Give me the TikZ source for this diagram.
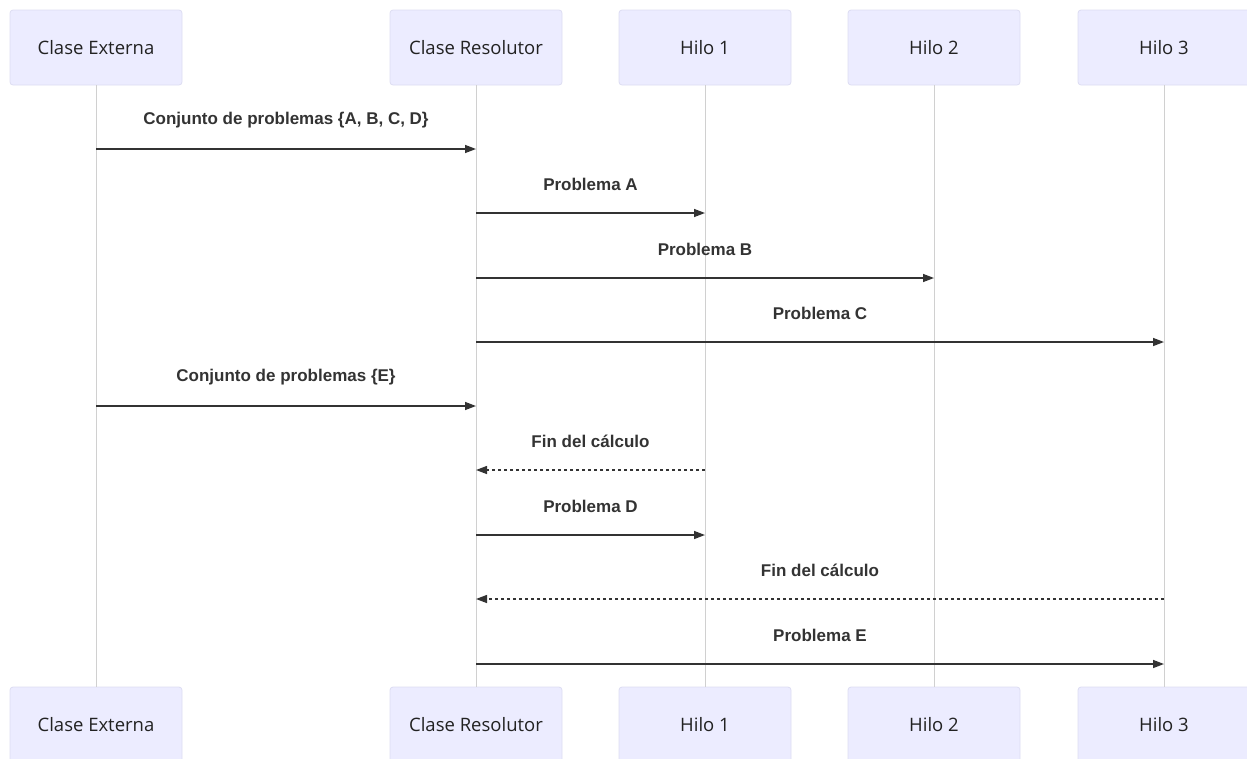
\documentclass[tikz,border=0pt]{standalone}
\usepackage{fontspec}
\setmainfont{Open Sans}
\newfontfamily\msgfont{Liberation Sans}
\usetikzlibrary{arrows.meta}
\definecolor{actorfill}{HTML}{ECECFF}
\definecolor{actorline}{HTML}{DDDDF2}
\definecolor{lifecol}{HTML}{D0D0D0}
\definecolor{ink}{HTML}{333333}
\definecolor{actortext}{HTML}{222222}
\begin{document}
\begin{tikzpicture}[x=1pt,y=-1pt,
  actor/.style={draw=actorline, line width=0.8pt, fill=actorfill, rounded corners=3pt,
    minimum width=172pt, minimum height=75pt, inner sep=0pt,
    font=\fontsize{18.5}{22}\selectfont, text=actortext},
  life/.style={draw=lifecol, line width=1pt},
  msg/.style={draw=ink, line width=1.4pt, -{Triangle[length=11pt,width=8pt]}},
  reply/.style={msg, dash pattern=on 3pt off 3pt},
  lbl/.style={font=\msgfont\bfseries\fontsize{17}{20}\selectfont, text=ink, inner sep=0pt, yshift=29pt}]
\useasboundingbox (0,0) rectangle (1247,758);

% actors, top and bottom
\node[actor] (ceT) at (96,47.5)   {Clase Externa};
\node[actor] (crT) at (476,47.5)  {Clase Resolutor};
\node[actor] (h1T) at (705,47.5)  {Hilo 1};
\node[actor] (h2T) at (934,47.5)  {Hilo 2};
\node[actor] (h3T) at (1164,47.5) {Hilo 3};
\node[actor] (ceB) at (96,724.5)   {Clase Externa};
\node[actor] (crB) at (476,724.5)  {Clase Resolutor};
\node[actor] (h1B) at (705,724.5)  {Hilo 1};
\node[actor] (h2B) at (934,724.5)  {Hilo 2};
\node[actor] (h3B) at (1164,724.5) {Hilo 3};

% lifelines
\foreach \p in {ce,cr,h1,h2,h3}
  \draw[life] (\p T.south) -- (\p B.north);

% message end points on the lifelines
\coordinate (m1a) at (96,149);   \coordinate (m1b) at (476,149);
\coordinate (m2a) at (476,213);  \coordinate (m2b) at (705,213);
\coordinate (m3a) at (476,278);  \coordinate (m3b) at (934,278);
\coordinate (m4a) at (476,342);  \coordinate (m4b) at (1164,342);
\coordinate (m5a) at (96,406);   \coordinate (m5b) at (476,406);
\coordinate (m6a) at (705,470);  \coordinate (m6b) at (476,470);
\coordinate (m7a) at (476,535);  \coordinate (m7b) at (705,535);
\coordinate (m8a) at (1164,599); \coordinate (m8b) at (476,599);
\coordinate (m9a) at (476,664);  \coordinate (m9b) at (1164,664);

% messages
\draw[msg]   (m1a) -- (m1b) node[lbl, midway] (l1) {Conjunto de problemas \{A, B, C, D\}};
\draw[msg]   (m2a) -- (m2b) node[lbl, midway] (l2) {Problema A};
\draw[msg]   (m3a) -- (m3b) node[lbl, midway] (l3) {Problema B};
\draw[msg]   (m4a) -- (m4b) node[lbl, midway] (l4) {Problema C};
\draw[msg]   (m5a) -- (m5b) node[lbl, midway] (l5) {Conjunto de problemas \{E\}};
\draw[reply] (m6a) -- (m6b) node[lbl, midway] (l6) {Fin del cálculo};
\draw[msg]   (m7a) -- (m7b) node[lbl, midway] (l7) {Problema D};
\draw[reply] (m8a) -- (m8b) node[lbl, midway] (l8) {Fin del cálculo};
\draw[msg]   (m9a) -- (m9b) node[lbl, midway] (l9) {Problema E};
\end{tikzpicture}
\end{document}
